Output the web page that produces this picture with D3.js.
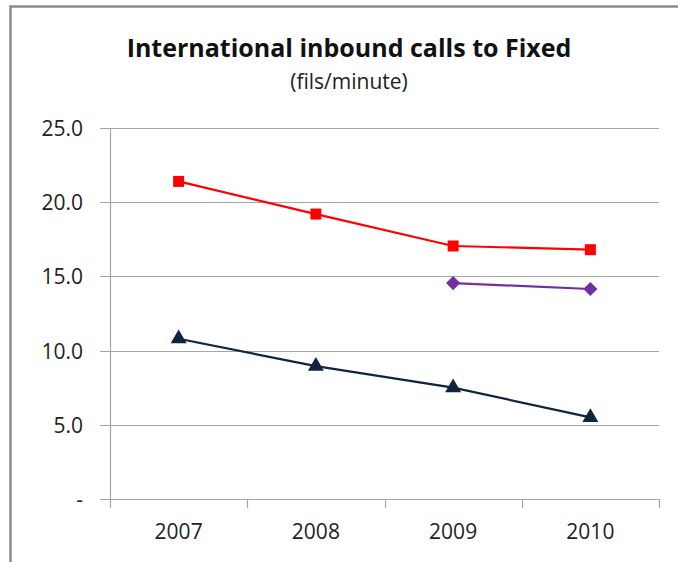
<!DOCTYPE html>
<html>
<head>
<meta charset="utf-8">
<script src="https://cdn.jsdelivr.net/npm/d3@7"></script>
<style>
  body { margin: 0; background: #fff; }
  text { font-family: "Open Sans", "Noto Sans", sans-serif; fill: #222; }
</style>
</head>
<body>
<div id="chart"></div>
<script>
// dane
var years = ["2007", "2008", "2009", "2010"]
var redValues = [21.4, 19.2, 17.05, 16.8]
var purpleValues = [null, null, 14.55, 14.15]
var navyValues = [10.8, 8.95, 7.5, 5.5]
var yTicks = [0, 5, 10, 15, 20, 25]

var width = 678, height = 562
var plotLeft = 110, plotRight = 659, plotTop = 128, plotBottom = 499

var svg = d3.select("#chart").append("svg")
  .attr("width", width)
  .attr("height", height)

// ramka (widoczna tylko góra i lewa strona)
svg.append("path")
  .attr("d", "M10.5," + height + "V6.5H" + width)
  .attr("fill", "none")
  .attr("stroke", "#8a8a8a")
  .attr("stroke-width", 2.5)

var x = d3.scaleBand().domain(years).range([plotLeft, plotRight])
var y = d3.scaleLinear().domain([0, 25]).range([plotBottom, plotTop])

// linie siatki
svg.append("g").selectAll("line")
  .data(yTicks)
  .enter().append("line")
  .attr("x1", plotLeft - 10).attr("x2", plotRight)
  .attr("y1", function(d) { return Math.round(y(d)) + 0.5 })
  .attr("y2", function(d) { return Math.round(y(d)) + 0.5 })
  .attr("stroke", "#a6a6a6")
  .attr("stroke-width", 1.2)

// oś Y
svg.append("line")
  .attr("x1", plotLeft + 0.5).attr("x2", plotLeft + 0.5)
  .attr("y1", plotTop).attr("y2", plotBottom + 9)
  .attr("stroke", "#a6a6a6").attr("stroke-width", 1.2)

// znaczniki na osi X
svg.append("g").selectAll("line")
  .data(years)
  .enter().append("line")
  .attr("x1", function(d) { return Math.round(x(d) + x.bandwidth()) + 0.5 })
  .attr("x2", function(d) { return Math.round(x(d) + x.bandwidth()) + 0.5 })
  .attr("y1", plotBottom).attr("y2", plotBottom + 9)
  .attr("stroke", "#a6a6a6").attr("stroke-width", 1.2)

// etykiety Y
svg.append("g").selectAll("text")
  .data(yTicks)
  .enter().append("text")
  .attr("x", 83)
  .attr("y", function(d) { return y(d) + 8 })
  .attr("text-anchor", "end")
  .style("font-size", "21px")
  .text(function(d) { return d === 0 ? "-" : d.toFixed(1) })

// etykiety X
svg.append("g").selectAll("text")
  .data(years)
  .enter().append("text")
  .attr("x", function(d) { return x(d) + x.bandwidth() / 2 })
  .attr("y", 539)
  .attr("text-anchor", "middle")
  .style("font-size", "21px")
  .text(function(d) { return d })

// tytuł
svg.append("text")
  .attr("x", 349).attr("y", 57)
  .attr("text-anchor", "middle")
  .style("font-size", "25px").style("font-weight", "bold")
  .style("fill", "#111")
  .text("International inbound calls to Fixed")

svg.append("text")
  .attr("x", 349).attr("y", 89)
  .attr("text-anchor", "middle")
  .style("font-size", "21px")
  .text("(fils/minute)")

// romb = kwadrat obrócony o 45 stopni
var series = [
  { values: redValues, color: "#ff0000", symbol: d3.symbolSquare, size: 121, rotate: 0 },
  { values: purpleValues, color: "#7030a0", symbol: d3.symbolSquare, size: 100, rotate: 45 },
  { values: navyValues, color: "#10243e", symbol: d3.symbolTriangle, size: 110, rotate: 0 }
]

var line = d3.line()
  .defined(function(d) { return d != null })
  .x(function(d, i) { return x(years[i]) + x.bandwidth() / 2 })
  .y(function(d) { return y(d) })

series.forEach(function(s) {
  svg.append("path")
    .attr("d", line(s.values))
    .attr("fill", "none")
    .attr("stroke", s.color)
    .attr("stroke-width", 2.2)

  svg.append("g").selectAll("path")
    .data(s.values.map(function(v, i) { return { v: v, year: years[i] } }).filter(function(d) { return d.v != null }))
    .enter().append("path")
    .attr("transform", function(d) {
      return "translate(" + (x(d.year) + x.bandwidth() / 2) + "," + y(d.v) + ") rotate(" + s.rotate + ")"
    })
    .attr("d", d3.symbol().type(s.symbol).size(s.size))
    .attr("fill", s.color)
})
</script>
</body>
</html>
